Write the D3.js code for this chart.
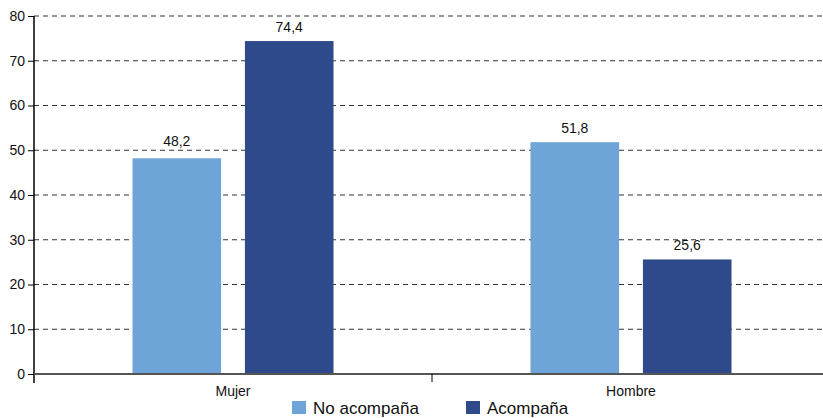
<!DOCTYPE html>
<html><head><meta charset="utf-8">
<script src="https://cdn.jsdelivr.net/npm/d3@7"></script>
<style>body{margin:0;background:#fff}svg{display:block;font-family:"Liberation Sans",Arial,sans-serif}</style>
</head><body><svg id="c" width="823" height="418"></svg>
<script>
const categories = ["Mujer", "Hombre"];
const seriesNames = ["No acompaña", "Acompaña"];
const noAcompana = [48.2, 51.8];
const acompana = [74.4, 25.6];
const yTicks = [0, 10, 20, 30, 40, 50, 60, 70, 80];
const colors = ["#6fa4d9", "#2f4a8b"];

const svg = d3.select("#c");
const mLeft = 34, mRight = 830, mTop = 16, mBottom = 374;
const x0 = d3.scaleBand().domain(categories).range([mLeft, mRight]).padding(0);
const x1 = d3.scaleBand().domain(seriesNames).range([0, x0.bandwidth()]).paddingInner(0.212).paddingOuter(0.876);
const y = d3.scaleLinear().domain([0, 80]).range([mBottom, mTop]);

// gridlines
svg.append("g").selectAll("line").data(yTicks.filter(d => d > 0)).join("line")
  .attr("x1", mLeft).attr("x2", 823).attr("y1", d => y(d)).attr("y2", d => y(d))
  .attr("stroke", "#333").attr("stroke-width", 1).attr("stroke-dasharray", "5,4");

// label position: above bar, lifted above a gridline if it would cross one
function labelY(v) {
  let b = y(v) - 9;
  yTicks.forEach(t => {
    const gy = y(t);
    if (gy > b - 9 && gy < b + 2) b = gy - 4;
  });
  return b;
}

const data = categories.map((c, i) => ({cat: c, vals: [noAcompana[i], acompana[i]]}));
const g = svg.append("g").selectAll("g").data(data).join("g")
  .attr("transform", d => `translate(${x0(d.cat)},0)`);
g.selectAll("rect").data(d => d.vals.map((v, j) => ({s: seriesNames[j], v, j}))).join("rect")
  .attr("x", d => x1(d.s)).attr("width", x1.bandwidth())
  .attr("y", d => y(d.v)).attr("height", d => y(0) - y(d.v))
  .attr("fill", d => colors[d.j]);
g.selectAll("text").data(d => d.vals.map((v, j) => ({s: seriesNames[j], v, j}))).join("text")
  .attr("x", d => x1(d.s) + x1.bandwidth() / 2).attr("y", d => labelY(d.v))
  .attr("text-anchor", "middle").attr("font-size", 14).attr("fill", "#111")
  .text(d => d3.format(".1f")(d.v).replace(".", ","));

// y axis
const ya = svg.append("g").attr("transform", `translate(${mLeft},0)`)
  .call(d3.axisLeft(y).tickValues(yTicks).tickSize(6).tickPadding(3).tickSizeOuter(0));
ya.select(".domain").remove();
ya.selectAll(".tick line").attr("stroke", "#000");
ya.selectAll(".tick text").attr("font-size", 14).attr("fill", "#111").attr("font-family", "Liberation Sans, Arial, sans-serif");
svg.append("line").attr("x1", mLeft).attr("x2", mLeft).attr("y1", mTop).attr("y2", mBottom + 9)
  .attr("stroke", "#000").attr("stroke-width", 1.5);

// baseline
svg.append("line").attr("x1", mLeft).attr("x2", 823).attr("y1", mBottom).attr("y2", mBottom)
  .attr("stroke", "#555").attr("stroke-width", 2);
// category separators
const seps = [x0.range()[0] + x0.bandwidth()];
svg.selectAll(".sep").data(seps).join("line").attr("class", "sep")
  .attr("x1", d => d).attr("x2", d => d).attr("y1", mBottom).attr("y2", mBottom + 8)
  .attr("stroke", "#000").attr("stroke-width", 1);
// category labels
svg.selectAll(".cat").data(categories).join("text").attr("class", "cat")
  .attr("x", d => x0(d) + x0.bandwidth() / 2).attr("y", 396)
  .attr("text-anchor", "middle").attr("font-size", 14).attr("fill", "#111").text(d => d);

// legend
const legX = [292, 466];
const lg = svg.selectAll(".leg").data(seriesNames).join("g").attr("class", "leg")
  .attr("transform", (d, i) => `translate(${legX[i]},401)`);
lg.append("rect").attr("width", 14).attr("height", 13).attr("fill", (d, i) => colors[i]);
lg.append("text").attr("x", 21).attr("y", 12.5).attr("font-size", 17).attr("fill", "#111").text(d => d);
</script></body></html>
